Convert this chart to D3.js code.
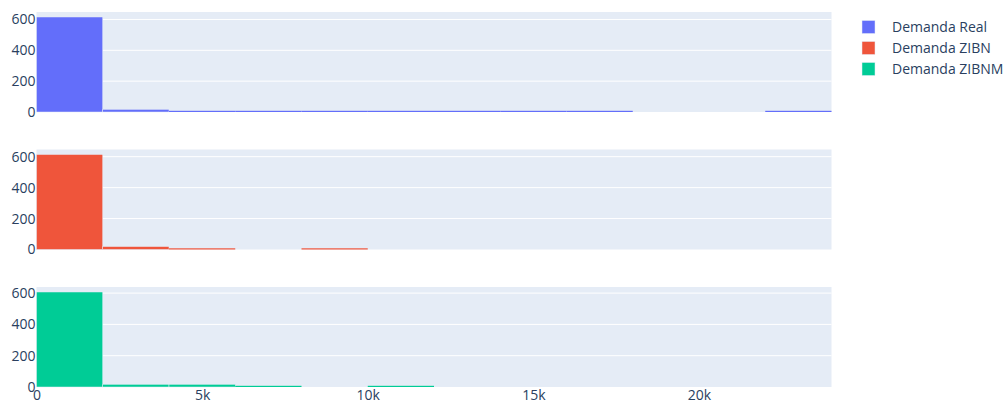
<!DOCTYPE html>
<html>
<head>
<meta charset="utf-8">
<script src="https://cdn.jsdelivr.net/npm/d3@7"></script>
<style>
  html, body { margin: 0; padding: 0; background: #fff; }
  svg { display: block; font-family: "Open Sans", sans-serif; }
</style>
</head>
<body>
<svg id="chart" width="1005" height="406"></svg>
<script>
// Histogram bins: 2000-wide, starting at 0
const binStarts = [0, 2000, 4000, 6000, 8000, 10000, 12000, 14000, 16000, 18000, 20000, 22000];
const binWidth = 2000;

const seriesNames = ["Demanda Real", "Demanda ZIBN", "Demanda ZIBNM"];
const countsReal  = [616, 17, 3, 3, 3, 3, 3, 3, 3, 0, 0, 3];
const countsZIBN  = [614, 19, 3, 0, 3, 0, 0, 0, 0, 0, 0, 0];
const countsZIBNM = [607, 17, 17, 3, 0, 3, 0, 0, 0, 0, 0, 0];
const seriesColors = ["#636efa", "#EF553B", "#00cc96"];

const yTickValues = [0, 200, 400, 600];
const xTickValues = [0, 5000, 10000, 15000, 20000];
const xTickLabels = ["0", "5k", "10k", "15k", "20k"];

const allCounts = [countsReal, countsZIBN, countsZIBNM];

const svg = d3.select("#chart");
const left = 36.5, right = 831.5;
const panelTops = [12, 149.5, 287];
const panelHeight = 100;
const textColor = "#2a3f5f";

const x = d3.scaleLinear().domain([0, 24000]).range([left, right]);

allCounts.forEach((counts, i) => {
  const top = panelTops[i];
  const bottom = top + panelHeight;
  const y = d3.scaleLinear()
    .domain([0, d3.max(counts) / 0.95])
    .range([bottom, top]);

  const g = svg.append("g");

  // panel background
  g.append("rect")
    .attr("x", left).attr("y", top)
    .attr("width", right - left).attr("height", panelHeight)
    .attr("fill", "#E5ECF6");

  // horizontal gridlines
  g.selectAll("line.grid")
    .data(yTickValues.filter(v => v > 0))
    .join("line")
    .attr("x1", left).attr("x2", right)
    .attr("y1", d => y(d)).attr("y2", d => y(d))
    .attr("stroke", "#fff").attr("stroke-width", 1);

  // bars (very small counts still get a visible 1px sliver)
  const bins = binStarts.map((s, k) => ({ x0: s, x1: s + binWidth, n: counts[k] }))
    .filter(d => d.n > 0);
  g.selectAll("rect.bar")
    .data(bins)
    .join("rect")
    .attr("x", d => x(d.x0))
    .attr("width", d => x(d.x1) - x(d.x0))
    .attr("y", d => Math.min(y(d.n), y(0) - 1.2))
    .attr("height", d => Math.max(1.2, y(0) - y(d.n)))
    .attr("fill", seriesColors[i])
    .attr("stroke", d => (y(0) - y(d.n)) > 2 ? "#E5ECF6" : "none")
    .attr("stroke-width", 0.5);

  // y axis labels
  const yAxis = d3.axisLeft(y).tickValues(yTickValues).tickSize(0).tickPadding(0);
  const ya = g.append("g").attr("transform", `translate(${left - 1},0)`).call(yAxis);
  ya.select(".domain").remove();
  ya.selectAll("text")
    .attr("fill", textColor)
    .style("font-family", "'Open Sans', sans-serif")
    .style("font-size", "14px");

  // shared x axis labels on the lowest panel only
  if (i === allCounts.length - 1) {
    const xAxis = d3.axisBottom(x).tickValues(xTickValues)
      .tickFormat((d, k) => xTickLabels[k]).tickSize(0).tickPadding(3);
    const xa = g.append("g").attr("transform", `translate(0,${bottom})`).call(xAxis);
    xa.select(".domain").remove();
    xa.selectAll("text")
      .attr("fill", textColor)
      .style("font-family", "'Open Sans', sans-serif")
      .style("font-size", "14px");
  }
});

// legend
const legend = svg.append("g").attr("transform", "translate(862,27)");
const items = legend.selectAll("g")
  .data(seriesNames)
  .join("g")
  .attr("transform", (d, k) => `translate(0,${k * 21})`);
items.append("rect")
  .attr("x", 0).attr("y", -6.5)
  .attr("width", 13).attr("height", 13)
  .attr("fill", (d, k) => seriesColors[k])
  .attr("stroke", "#E5ECF6").attr("stroke-width", 0.5);
items.append("text")
  .attr("x", 30).attr("y", 0).attr("dy", "0.35em")
  .attr("fill", textColor)
  .style("font-size", "14px")
  .text(d => d);
</script>
</body>
</html>
